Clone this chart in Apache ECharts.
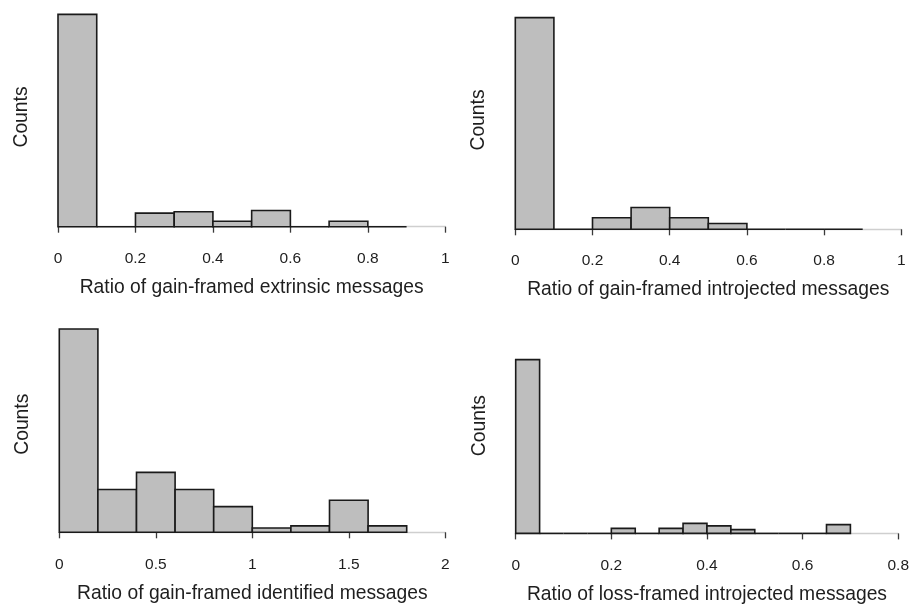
<!DOCTYPE html>
<html><head><meta charset="utf-8">
<script src="https://cdn.jsdelivr.net/npm/echarts@6/dist/echarts.min.js"></script>
<style>html,body{margin:0;padding:0;background:#fff}#c{width:912px;height:605px}</style>
</head><body><div id="c"></div>
<script>
// Histogram data: bin width and counts per bin (bins start at 0)
const extrinsicBinWidth = 0.1;
const extrinsicCounts = [157, 0, 10, 11, 4, 12, 0, 4, 0];
const introjectedBinWidth = 0.1;
const introjectedCounts = [146, 0, 8, 15, 8, 4, 0, 0, 0];
const identifiedBinWidth = 0.2;
const identifiedCounts = [95, 20, 28, 20, 12, 2, 3, 15, 3];
const lossBinWidth = 0.05;
const lossCounts = [139, 0, 0, 0, 4, 0, 4, 8, 6, 3, 0, 0, 0, 7];

const titles = [
  'Ratio of gain-framed extrinsic messages',
  'Ratio of gain-framed introjected messages',
  'Ratio of gain-framed identified messages',
  'Ratio of loss-framed introjected messages'
];
const xMax = [1, 1, 2, 0.8];
const xInterval = [0.2, 0.2, 0.5, 0.2];
const yLabel = 'Counts';

const panels = [
  {w: extrinsicBinWidth, c: extrinsicCounts, grid: {left: 58, top: 7.3, width: 387.3, height: 219.4}, ymax: 162.2, off: 10.3},
  {w: introjectedBinWidth, c: introjectedCounts, grid: {left: 515.3, top: 10.7, width: 386, height: 218.6}, ymax: 150.8, off: 9.7},
  {w: identifiedBinWidth, c: identifiedCounts, grid: {left: 59.3, top: 316.1, width: 386, height: 216.2}, ymax: 101.0, off: 10.7},
  {w: lossBinWidth, c: lossCounts, grid: {left: 515.7, top: 317.9, width: 385.6, height: 215.8}, ymax: 172.4, off: 10.6}
];

const FONT = 'Liberation Sans, Arial, Helvetica, sans-serif';
const option = {
  animation: false,
  backgroundColor: '#fff',
  grid: [], xAxis: [], yAxis: [], series: []
};

panels.forEach((p, i) => {
  option.grid.push(Object.assign({containLabel: false}, p.grid));
  option.xAxis.push({
    type: 'value', gridIndex: i, min: 0, max: xMax[i], interval: xInterval[i],
    offset: p.off,
    axisLine: {show: true, lineStyle: {color: '#cfcfcf', width: 1.3}},
    axisTick: {show: true, inside: false, length: 6, lineStyle: {color: '#3a3a3a', width: 1.3}},
    axisLabel: {show: true, margin: 14, color: '#1e1e1e', fontSize: 15.5, fontFamily: FONT,
      formatter: v => String(+v.toFixed(2))},
    splitLine: {show: false},
    name: titles[i], nameLocation: 'middle', nameGap: 41,
    nameTextStyle: {color: '#1e1e1e', fontSize: 19.3, fontFamily: FONT}
  });
  option.yAxis.push({
    type: 'value', gridIndex: i, min: 0, max: p.ymax,
    axisLine: {show: false}, axisTick: {show: false}, axisLabel: {show: false}, splitLine: {show: false},
    name: yLabel, nameLocation: 'middle', nameGap: 27,
    nameTextStyle: {color: '#1e1e1e', fontSize: 19.3, fontFamily: FONT}
  });
  const data = p.c.map((v, k) => [k * p.w, (k + 1) * p.w, v]);
  option.series.push({
    type: 'custom', xAxisIndex: i, yAxisIndex: i, data: data,
    encode: {x: [0, 1], y: 2},
    renderItem: (params, api) => {
      const a = api.coord([api.value(0), api.value(2)]);
      const b = api.coord([api.value(1), 0]);
      if (api.value(2) === 0) {
        return {type: 'line', shape: {x1: a[0], y1: b[1], x2: b[0], y2: b[1]},
          style: {stroke: '#1a1a1a', lineWidth: 1.6}};
      }
      return {type: 'rect', shape: {x: a[0], y: a[1], width: b[0] - a[0], height: b[1] - a[1]},
        style: {fill: '#bebebe', stroke: '#1a1a1a', lineWidth: 1.6}};
    }
  });
});

const chart = echarts.init(document.getElementById('c'), null, {renderer: 'canvas'});
chart.setOption(option);
</script></body></html>
